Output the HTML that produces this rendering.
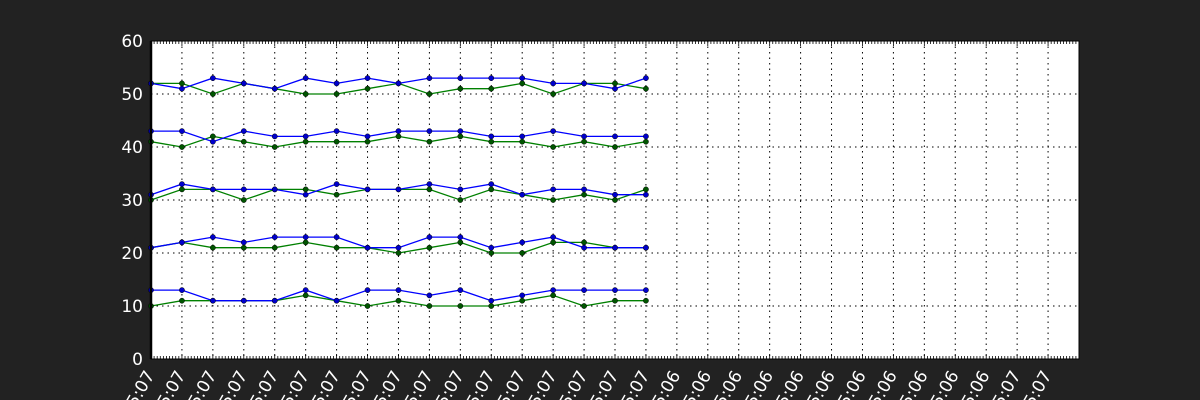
<!DOCTYPE html>
<html><head><meta charset="utf-8">
<style>
html,body{margin:0;padding:0;background:#222222;overflow:hidden;width:1200px;height:400px;}
svg{display:block;}
text{font-family:"DejaVu Sans","Liberation Sans",sans-serif;fill:#ffffff;}
</style></head>
<body>
<svg id="chart" width="1200" height="400" viewBox="0 0 1200 400" xmlns="http://www.w3.org/2000/svg" overflow="hidden">
<rect x="0" y="0" width="1200" height="400" fill="#222222"/>
<rect x="151" y="41" width="928" height="318" fill="#ffffff"/>
<g id="grid"></g>
<g id="series"></g>
<g id="axes"></g>
</svg>
<script>
const yTicks = [0,10,20,30,40,50,60];
const xLabels = ["5:07","5:07","5:07","5:07","5:07","5:07","5:07","5:07","5:07","5:07","5:07","5:07","5:07","5:07","5:07","5:07","5:07",
"5:06","5:06","5:06","5:06","5:06","5:06","5:06","5:06","5:06","5:06","5:06","5:07","5:07"];
const blue50 = [52,51,53,52,51,53,52,53,52,53,53,53,53,52,52,51,53];
const green50 = [52,52,50,52,51,50,50,51,52,50,51,51,52,50,52,52,51];
const blue40 = [43,43,41,43,42,42,43,42,43,43,43,42,42,43,42,42,42];
const green40 = [41,40,42,41,40,41,41,41,42,41,42,41,41,40,41,40,41];
const blue30 = [31,33,32,32,32,31,33,32,32,33,32,33,31,32,32,31,31];
const green30 = [30,32,32,30,32,32,31,32,32,32,30,32,31,30,31,30,32];
const blue20 = [21,22,23,22,23,23,23,21,21,23,23,21,22,23,21,21,21];
const green20 = [21,22,21,21,21,22,21,21,20,21,22,20,20,22,22,21,21];
const blue10 = [13,13,11,11,11,13,11,13,13,12,13,11,12,13,13,13,13];
const green10 = [10,11,11,11,11,12,11,10,11,10,10,10,11,12,10,11,11];

const X0=151, X1=1079, Y0=359, Y1=41, XMAX=30, YMAX=60;
const NS="http://www.w3.org/2000/svg";
function xs(i){return X0+(X1-X0)*i/XMAX;}
function ys(v){return Y0-(Y0-Y1)*v/YMAX;}
function mk(tag,attrs,parent){const e=document.createElementNS(NS,tag);for(const k in attrs)e.setAttribute(k,attrs[k]);parent.appendChild(e);return e;}
const grid=document.getElementById('grid'), axes=document.getElementById('axes'), ser=document.getElementById('series');

for(let i=1;i<XMAX;i++){
  const l=mk('line',{x1:xs(i),x2:xs(i),y1:Y1,y2:Y0,stroke:'#000','stroke-width':1,'stroke-dasharray':'1.5,4'},grid);
  
  
}
yTicks.forEach(v=>{
  if(v>0&&v<YMAX){
    const l=mk('line',{x1:X0,x2:X1,y1:ys(v),y2:ys(v),stroke:'#000','stroke-width':1,'stroke-dasharray':'1.5,4'},grid);
    
    
  }
  const t=mk('text',{x:143,y:ys(v)+6,'text-anchor':'end','font-size':17},axes);
  t.textContent=v;
  
  
});
let d='';
for(let i=0;i<=XMAX*10;i++){const x=xs(i/10);d+=`M${x},${Y1}v3M${x},${Y0}v-3`;}
for(let i=0;i<=XMAX;i++){const x=xs(i);d+=`M${x},${Y1}v5M${x},${Y0}v-5`;}
const mt=mk('path',{d:d,stroke:'#000','stroke-width':0.8,fill:'none'},axes);


const frame=mk('rect',{x:X0,y:Y1,width:X1-X0,height:Y0-Y1,fill:'none',stroke:'#000','stroke-width':1},axes);


const spine=mk('line',{x1:X0,x2:X0,y1:Y1,y2:Y0,stroke:'#000','stroke-width':2.5},axes);



xLabels.forEach((lab,i)=>{
  const x=xs(i), y=Y0+16;
  const t=mk('text',{x:x+4,y:y,'text-anchor':'end','font-size':17,transform:`rotate(-60 ${x+4} ${y})`},axes);
  t.textContent='15:0'+lab;
  
  
});

function drawSeries(vals,color,name){
  const g=mk('g',{},ser);
  
  
  const pts=vals.map((v,i)=>xs(i)+','+ys(v)).join(' ');
  const pl=mk('polyline',{points:pts,fill:'none',stroke:color,'stroke-width':1.3},g);
  
  
  vals.forEach((v,i)=>{
    const c=mk('circle',{cx:xs(i),cy:ys(v),r:2.6,fill:color==='#0000ff'?'#0000cc':'#005500',stroke:'#000','stroke-width':0.5},g);
    
    
  });
}
const G='#008000', B='#0000ff';
drawSeries(green10,G,'green-series-10');drawSeries(blue10,B,'blue-series-10');
drawSeries(green20,G,'green-series-20');drawSeries(blue20,B,'blue-series-20');
drawSeries(green30,G,'green-series-30');drawSeries(blue30,B,'blue-series-30');
drawSeries(green40,G,'green-series-40');drawSeries(blue40,B,'blue-series-40');
drawSeries(green50,G,'green-series-50');drawSeries(blue50,B,'blue-series-50');
</script>
</body></html>
